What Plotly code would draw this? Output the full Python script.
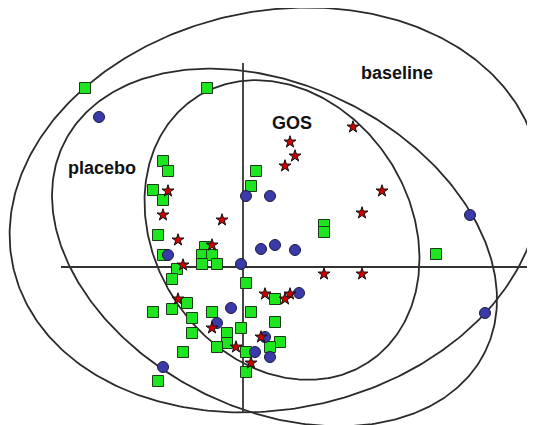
import numpy as np
import plotly.graph_objects as go

# Point groups (data units; origin at the axis crossing)
square_x = [-15.8, -3.6, -8.0, -7.5, -9.0, -8.0, 1.3, 0.8, -8.5, -8.0, -3.8, -4.1, -3.1, -4.1, -2.6,
            -6.6, -7.1, 0.3, -5.6, -7.1, -9.0, -5.1, -3.1, 0.8, -5.1, -0.2, -1.6, -1.6, -2.6, -6.0,
            0.3, 0.3, -8.5, 3.2, 3.2, 3.7, 2.7, 8.1, 8.1, 19.3]
square_y = [17.9, 17.9, 10.6, 9.6, 7.7, 6.7, 9.6, 8.1, 3.2, 1.2, 2.0, 1.2, 1.2, 0.3, 0.3,
            -0.2, -1.2, -1.6, -3.6, -4.2, -4.5, -5.1, -4.5, -4.5, -6.6, -6.1, -6.6, -7.6, -8.0, -8.5,
            -8.5, -10.5, -11.4, -3.2, -5.5, -7.5, -8.0, 4.2, 3.5, 1.3]

circle_x = [-14.4, 0.3, 2.7, -7.5, 1.8, 3.2, 5.2, -0.2, 5.6, -1.2, -2.6, 2.2, 1.2, 2.7, -8.0, 22.7, 24.2]
circle_y = [15.0, 7.1, 7.1, 1.2, 1.8, 2.2, 1.7, 0.3, -2.6, -4.1, -5.6, -7.0, -8.5, -9.0, -10.0, 5.2, -4.6]

star_x = [4.7, 5.2, 4.2, 11.0, 13.9, 11.9, -7.5, -8.0, -2.1, -6.5, -3.1, -6.0, -6.5, -3.1, -0.7,
          0.8, 2.2, 4.7, 4.2, 1.8, 8.1, 11.9]
star_y = [12.5, 11.1, 10.1, 14.0, 7.6, 5.4, 7.6, 5.2, 4.7, 2.7, 2.2, 0.2, -3.2, -6.1, -8.0,
          -9.6, -2.7, -2.7, -3.2, -7.0, -0.7, -0.7]

small_x = [28.9]
small_y = [3.9]

# Group ellipses: name, centre x, centre y, semi-axis a, semi-axis b, rotation (deg)
ellipse_names = ["baseline", "placebo", "GOS"]
ellipse_cx = [3.2, 3.15, 3.9]
ellipse_cy = [5.7, 1.95, 3.7]
ellipse_a = [26.8, 23.5, 15.8]
ellipse_b = [19.9, 16.2, 12.8]
ellipse_rot = [12.0, -26.4, -57.2]

label_text = ["baseline", "placebo", "GOS"]
label_x = [15.4, -14.1, 4.9]
label_y = [19.4, 9.9, 14.4]

axis_h = [-18.2, 29.2]
axis_v = [-14.6, 20.4]

fig = go.Figure()

t = np.linspace(0, 2 * np.pi, 400)
for name, cx, cy, a, b, r in zip(ellipse_names, ellipse_cx, ellipse_cy, ellipse_a, ellipse_b, ellipse_rot):
    th = np.radians(r)
    ex = cx + a * np.cos(t) * np.cos(th) - b * np.sin(t) * np.sin(th)
    ey = cy + a * np.cos(t) * np.sin(th) + b * np.sin(t) * np.cos(th)
    fig.add_trace(go.Scatter(x=ex, y=ey, mode="lines", line=dict(color="#2a2a2a", width=1.8),
                             hoverinfo="skip", showlegend=False, name=name))

fig.add_trace(go.Scatter(x=axis_h, y=[0, 0], mode="lines", line=dict(color="#333333", width=1.8),
                         hoverinfo="skip", showlegend=False))
fig.add_trace(go.Scatter(x=[0, 0], y=axis_v, mode="lines", line=dict(color="#333333", width=1.8),
                         hoverinfo="skip", showlegend=False))

fig.add_trace(go.Scatter(x=square_x, y=square_y, mode="markers", showlegend=False,
                         marker=dict(symbol="square", size=11, color="#1ee61e",
                                     line=dict(color="#1a3a1a", width=1))))
fig.add_trace(go.Scatter(x=circle_x, y=circle_y, mode="markers", showlegend=False,
                         marker=dict(symbol="circle", size=11, color="#3a3aa8",
                                     line=dict(color="#1a1a40", width=1))))
fig.add_trace(go.Scatter(x=star_x, y=star_y, mode="markers", showlegend=False,
                         marker=dict(symbol="star", size=9, color="#cc0000",
                                     line=dict(color="#111111", width=1))))
fig.add_trace(go.Scatter(x=small_x, y=small_y, mode="markers", showlegend=False,
                         marker=dict(symbol="star", size=6, color="#22aa22")))

for txt, lx, ly in zip(label_text, label_x, label_y):
    fig.add_annotation(x=lx, y=ly, text=f"<b>{txt}</b>", showarrow=False,
                       font=dict(family="Liberation Sans, Arial", size=18, color="#111111"))

# page body has an 8px margin: figure sized to fit inside the 535x425 window
fig.update_layout(width=527, height=417, margin=dict(l=0, r=0, t=0, b=0),
                  paper_bgcolor="white", plot_bgcolor="white",
                  xaxis=dict(range=[-23.5, 29.2], visible=False, showgrid=False, zeroline=False),
                  yaxis=dict(range=[-15.8, 25.9], visible=False, showgrid=False, zeroline=False))

fig.write_html("out.html")
